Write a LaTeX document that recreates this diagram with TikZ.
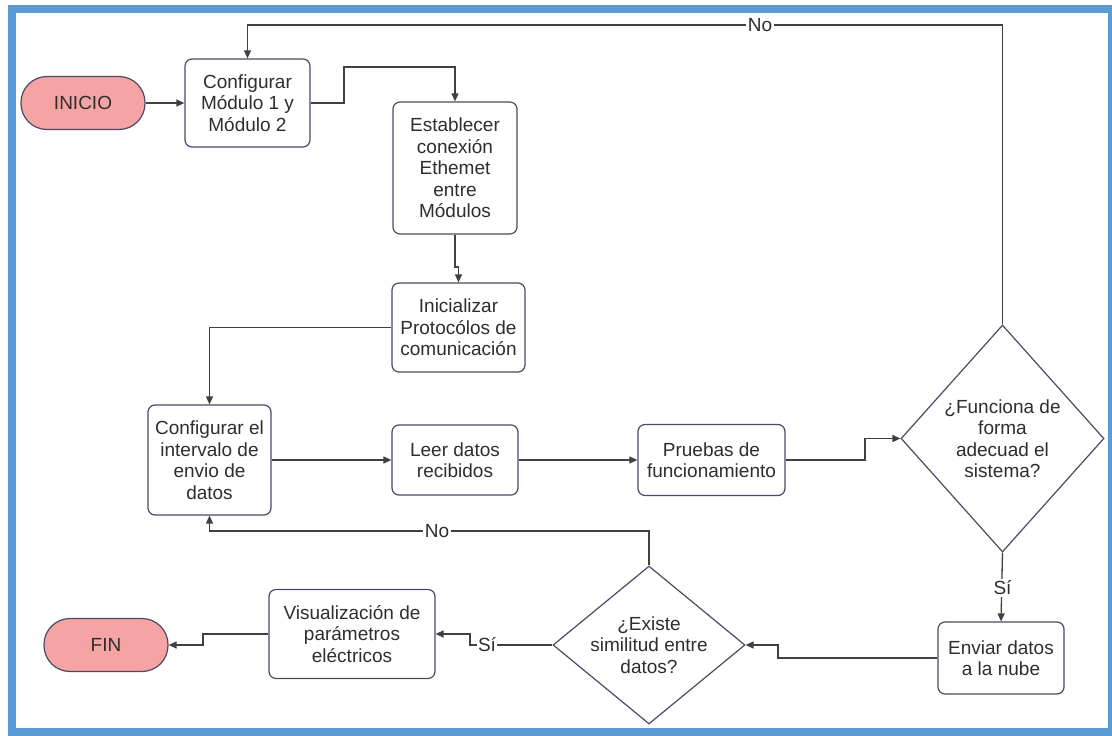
\documentclass[tikz,border=0pt]{standalone}
\usepackage{fontspec}
\setmainfont{Liberation Sans}
\usetikzlibrary{shapes.geometric,arrows.meta}
\definecolor{frameblue}{HTML}{5B9BD5}
\definecolor{boxline}{HTML}{4A4A68}
\definecolor{termfill}{HTML}{F5A3A3}
\definecolor{conline}{HTML}{404040}
\definecolor{txtcol}{HTML}{2E2E2E}
\tikzset{
  x=1pt, y=-1pt,
  base/.style={align=center, text=txtcol, font=\fontsize{19}{21.5}\selectfont, inner sep=0pt},
  procbox/.style={base, draw=boxline, line width=1.2pt, rounded corners=7pt, fill=white},
  termbox/.style={base, draw=boxline, line width=1.2pt, rounded corners=26pt, fill=termfill, minimum width=124pt, minimum height=53pt},
  decis/.style={draw=boxline, line width=1.2pt, diamond, fill=white, inner sep=0pt},
  arr/.style={draw=conline, line width=1.3pt, -{Triangle[length=8pt,width=7pt]}},
  edgelbl/.style={base, fill=white, inner sep=1.5pt}
}
\begin{document}
\begin{tikzpicture}
\useasboundingbox (0,0) rectangle (1112,736);
\fill[white] (0,0) rectangle (1112,736);
\draw[frameblue, line width=8pt] (12,9) rectangle (1112,732);

% nodes
\node[termbox] (inicio) at (83,103) {INICIO};
\node[procbox, minimum width=125pt, minimum height=88pt] (conf1) at (247.5,103) {Configurar\\Módulo 1 y\\Módulo 2};
\node[procbox, minimum width=124pt, minimum height=132pt] (estab) at (455,168) {Establecer\\conexión\\Ethemet\\entre\\Módulos};
\node[procbox, minimum width=133pt, minimum height=89pt] (inic) at (458.5,327.5) {Inicializar\\Protocólos de\\comunicación};
\node[procbox, minimum width=123pt, minimum height=110pt] (confint) at (209.5,460) {Configurar el\\intervalo de\\envio de\\datos};
\node[procbox, minimum width=126pt, minimum height=70pt] (leer) at (455,460) {Leer datos\\recibidos};
\node[procbox, minimum width=147pt, minimum height=71pt] (prueb) at (711.5,460) {Pruebas de\\funcionamiento};
\node[decis, minimum width=203pt, minimum height=227pt] (d1) at (1002.5,438.5) {};
\node[base] (d1t) at (d1.center) {¿Funciona de\\forma\\adecuad el\\sistema?};
\node[procbox, minimum width=126pt, minimum height=72pt] (enviar) at (1001,658) {Enviar datos\\a la nube};
\node[decis, minimum width=192pt, minimum height=158pt] (d2) at (649,645) {};
\node[base] (d2t) at (d2.center) {¿Existe\\similitud entre\\datos?};
\node[procbox, minimum width=166pt, minimum height=89pt] (visu) at (352,634) {Visualización de\\parámetros\\eléctricos};
\node[termbox] (fin) at (106,645) {FIN};

% junction points
\coordinate (j1) at (344,67);
\coordinate (j2) at (455,267);
\coordinate (j3) at (865,460);
\coordinate (j4) at (1002.5,25);
\coordinate (j5) at (778,658);
\coordinate (j6) at (649,531);
\coordinate (j7) at (470,645);
\coordinate (j8) at (203,634);

% connectors
\draw[arr] (inicio.east) -- (conf1.west);
\draw[arr] (conf1.east) -| (j1) -| (estab.north);
\draw[arr] (estab.south) -- (j2) -| (inic.north);
\draw[arr] (inic.west) -| (confint.north);
\draw[arr] (confint.east) -- (leer.west);
\draw[arr] (leer.east) -- (prueb.west);
\draw[arr] (prueb.east) -- (j3) |- (d1.west);
\draw[arr] (d1.north) -- (j4) -| (conf1.north);
\draw[arr] (d1.south) -- (enviar.north);
\draw[arr] (enviar.west) -- (j5) |- (d2.east);
\draw[arr] (d2.north) -- (j6) -| (confint.south);
\draw[arr] (d2.west) -- (j7) |- (visu.east);
\draw[arr] (visu.west) -- (j8) |- (fin.east);

% labels
\node[edgelbl] (lno1) at (760,25) {No};
\node[edgelbl] (lsi1) at (1002.5,588) {Sí};
\node[edgelbl] (lno2) at (437,531) {No};
\node[edgelbl] (lsi2) at (487,645) {Sí};
\end{tikzpicture}
\end{document}
